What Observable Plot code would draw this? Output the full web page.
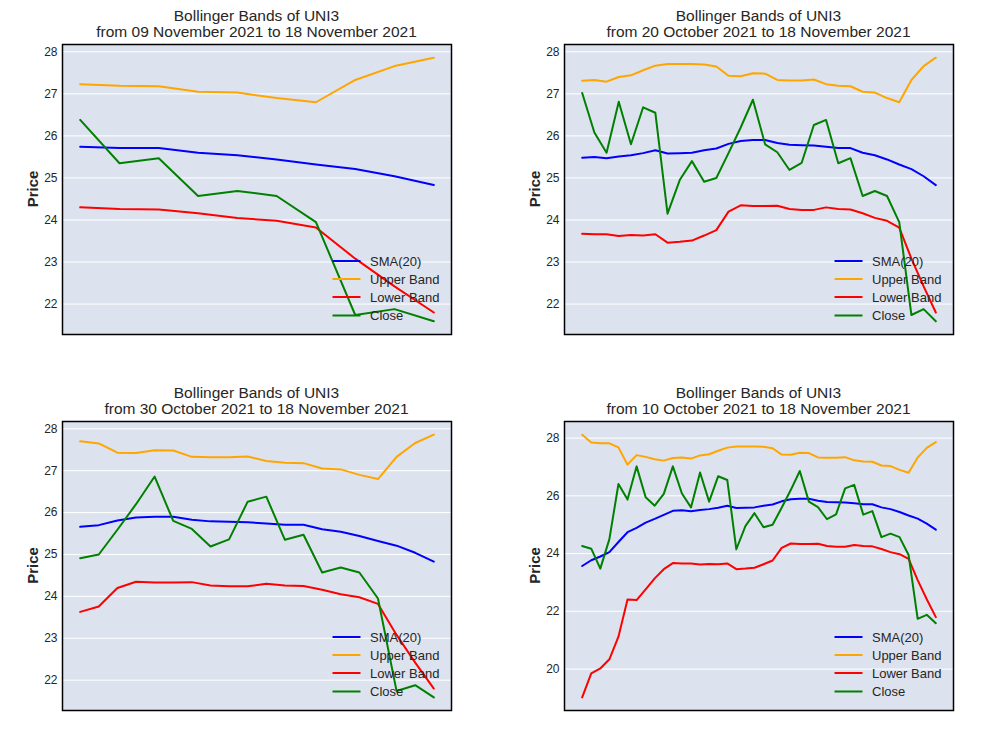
<!DOCTYPE html>
<html><head><meta charset="utf-8">
<script src="https://cdn.jsdelivr.net/npm/d3@7"></script>
<script src="https://cdn.jsdelivr.net/npm/@observablehq/plot@0.6"></script>
<style>
body{margin:0;background:#fff;font-family:"Liberation Sans",Arial,sans-serif;}
#wrap{position:relative;width:1003px;height:752px;overflow:hidden;}
.panel{position:absolute;}
.panel svg{overflow:visible;}
</style></head><body><div id="wrap"></div>
<script>
// Daily values, 10 Oct 2021 .. 18 Nov 2021 (40 trading days)
const closeVals = [24.26,24.17,23.48,24.50,26.41,25.87,27.02,25.95,25.66,26.07,
  27.02,26.08,25.60,26.81,25.80,26.68,26.55,24.15,24.95,25.40,
  24.91,25.00,25.59,26.20,26.86,25.80,25.61,25.19,25.36,26.26,
  26.38,25.35,25.47,24.57,24.69,24.57,23.95,21.74,21.88,21.59];
const smaVals = [23.57,23.77,23.90,24.05,24.40,24.74,24.89,25.07,25.20,25.34,
  25.48,25.50,25.47,25.51,25.54,25.59,25.66,25.58,25.59,25.60,
  25.66,25.70,25.81,25.88,25.90,25.90,25.83,25.79,25.78,25.77,
  25.74,25.71,25.71,25.60,25.54,25.44,25.32,25.21,25.04,24.83];
const upperVals = [28.12,27.85,27.82,27.82,27.68,27.08,27.41,27.35,27.27,27.22,
  27.31,27.33,27.29,27.40,27.44,27.56,27.67,27.71,27.71,27.71,
  27.70,27.65,27.43,27.42,27.49,27.48,27.33,27.32,27.32,27.34,
  27.23,27.19,27.18,27.05,27.03,26.90,26.80,27.33,27.66,27.86];
const lowerVals = [19.02,19.85,20.02,20.34,21.12,22.41,22.39,22.76,23.14,23.46,
  23.67,23.66,23.66,23.62,23.64,23.63,23.66,23.46,23.48,23.51,
  23.63,23.76,24.20,24.35,24.33,24.33,24.34,24.26,24.24,24.24,
  24.30,24.26,24.25,24.16,24.05,23.98,23.82,23.08,22.42,21.80];

const seriesNames = ["SMA(20)", "Upper Band", "Lower Band", "Close"];
const seriesColors = ["#0000ff", "#ffa500", "#ff0000", "#008000"];
const firstDate = "2021-10-10";
const endDate = "2021-11-18";
const panelStarts = ["2021-11-09", "2021-10-20", "2021-10-30", "2021-10-10"];
const titleLine1 = "Bollinger Bands of UNI3";
const yLabel = "Price";

const dates = d3.utcDay.range(new Date(firstDate), d3.utcDay.offset(new Date(endDate), 1));
const seriesArrays = [smaVals, upperVals, lowerVals, closeVals];
const rows = dates.flatMap((d, i) => seriesNames.map((s, k) => ({date: d, series: s, value: seriesArrays[k][i]})));
const fmt = d3.utcFormat("%d %B %Y");

const W = 501, H = 376;
const layout = [
  {left: 0, top: 0, mt: 44},
  {left: 502, top: 0, mt: 44},
  {left: 0, top: 376, mt: 45},
  {left: 502, top: 376, mt: 45}
];
const ML = 62, MR = 50, MB = 42;
const FONT = "Liberation Sans, Arial, sans-serif";
const wrap = document.getElementById("wrap");

panelStarts.forEach((start, p) => {
  const s = new Date(start), e = new Date(endDate);
  const data = rows.filter(r => r.date >= s && r.date <= e);
  const span = e - s;
  const xDom = [new Date(+s - 0.05 * span), new Date(+e + 0.05 * span)];
  const [lo, hi] = d3.extent(data, r => r.value);
  const yDom = [lo - 0.05 * (hi - lo), hi + 0.05 * (hi - lo)];
  const ticks = d3.ticks(yDom[0], yDom[1], 7);
  const L = layout[p];
  const chart = Plot.plot({
    width: W, height: H,
    marginLeft: ML, marginRight: MR, marginTop: L.mt, marginBottom: MB,
    style: {fontFamily: FONT, background: "transparent", color: "#262626"},
    x: {type: "utc", domain: xDom, axis: null},
    y: {domain: yDom, axis: null},
    color: {domain: seriesNames, range: seriesColors},
    marks: [
      Plot.frame({fill: "#dde3ee", stroke: null}),
      Plot.ruleY(ticks, {stroke: "white", strokeWidth: 1}),
      Plot.axisY(ticks, {tickSize: 0, tickPadding: 5, fontSize: 12, fill: "#262626", label: null}),
      Plot.line(data, {x: "date", y: "value", z: "series", stroke: "series", strokeWidth: 2}),
      Plot.frame({stroke: "black", strokeWidth: 1.5})
    ]
  });
  const div = document.createElement("div");
  div.className = "panel";
  div.style.left = L.left + "px";
  div.style.top = L.top + "px";
  div.appendChild(chart);
  wrap.appendChild(div);

  const svg = d3.select(chart);
  const fr = W - MR, fb = H - MB, cx = (ML + fr) / 2, midY = (L.mt + fb) / 2;
  // Title
  const t = svg.append("text").attr("text-anchor", "middle").attr("fill", "#262626")
    .style("font-size", "15.5px").style("font-family", FONT);
  t.append("tspan").attr("x", cx).attr("y", L.mt - 23).text(titleLine1);
  t.append("tspan").attr("x", cx).attr("y", L.mt - 7.5).text("from " + fmt(s) + " to " + fmt(e));
  // Y label
  svg.append("text").attr("transform", `translate(32,${midY}) rotate(-90)`)
    .attr("text-anchor", "middle").attr("dominant-baseline", "central")
    .attr("fill", "#262626").style("font-weight", "bold").style("font-size", "15px")
    .style("font-family", FONT).text(yLabel);
  // Legend
  const lg = svg.append("g").attr("text-anchor", "start");
  const rowOff = [73, 55, 37, 18.5];
  seriesNames.forEach((name, k) => {
    const y = fb - rowOff[k];
    lg.append("line").attr("x1", fr - 118.5).attr("x2", fr - 90.5).attr("y1", y).attr("y2", y)
      .attr("stroke", seriesColors[k]).attr("stroke-width", 2);
    lg.append("text").attr("x", fr - 81).attr("y", y).attr("dominant-baseline", "central")
      .attr("text-anchor", "start")
      .attr("fill", "#262626").style("font-size", "13px")
      .style("font-family", FONT).text(name);
  });
});
</script></body></html>
